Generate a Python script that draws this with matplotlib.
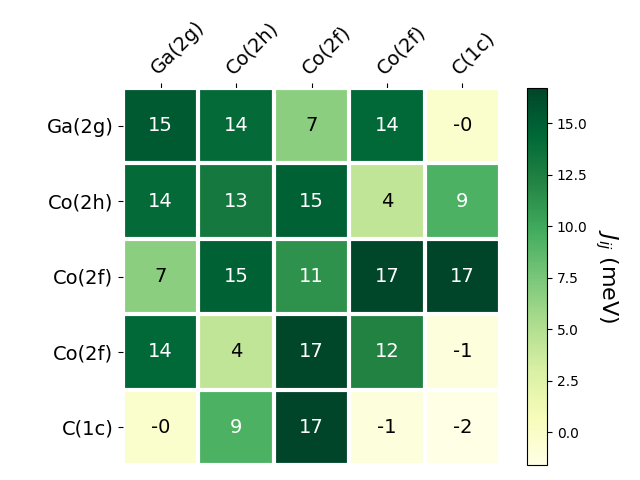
import matplotlib
matplotlib.use("Agg")
import matplotlib.pyplot as plt
import numpy as np

sites = ["Ga(2g)", "Co(2h)", "Co(2f)", "Co(2f)", "C(1c)"]

# exchange couplings J_ij in meV (symmetric)
row_ga2g = [15.2, 14.1, 6.7, 14.3, -0.3]
row_co2h = [14.1, 13.0, 14.8, 4.2, 9.3]
row_co2f_a = [6.7, 14.8, 11.2, 16.6, 16.7]
row_co2f_b = [14.3, 4.2, 16.6, 12.2, -1.1]
row_c1c = [-0.3, 9.3, 16.7, -1.1, -1.6]

J = np.array([row_ga2g, row_co2h, row_co2f_a, row_co2f_b, row_c1c])

fig = plt.figure(figsize=(6.4, 4.8), dpi=100)
ax = fig.add_axes([123/640, 15/480, 377/640, 377/480])
cax = fig.add_axes([527/640, 15/480, 20/640, 377/480])

im = ax.imshow(J, cmap="YlGn")
cbar = fig.colorbar(im, cax=cax)
cbar.ax.set_ylabel("$J_{ij}$ (meV)", rotation=-90, va="bottom", fontsize=16)

ax.set_xticks(np.arange(len(sites)))
ax.set_yticks(np.arange(len(sites)))
ax.set_xticklabels(sites, fontsize=14)
ax.set_yticklabels(sites, fontsize=14)
ax.tick_params(top=True, bottom=False, labeltop=True, labelbottom=False)
plt.setp(ax.get_xticklabels(), rotation=45, ha="left", rotation_mode="anchor")

for s in ax.spines.values():
    s.set_visible(False)
ax.set_xticks(np.arange(len(sites)+1)-.5, minor=True)
ax.set_yticks(np.arange(len(sites)+1)-.5, minor=True)
ax.grid(which="minor", color="w", linestyle="-", linewidth=3)
ax.tick_params(which="minor", bottom=False, left=False, top=False)

thr = im.norm(J.max())/2.
for i in range(J.shape[0]):
    for j in range(J.shape[1]):
        c = "white" if im.norm(J[i, j]) > thr else "black"
        ax.text(j, i, "{:.0f}".format(J[i, j]), ha="center", va="center",
                color=c, fontsize=14)

fig.savefig("out.png", dpi=100)
